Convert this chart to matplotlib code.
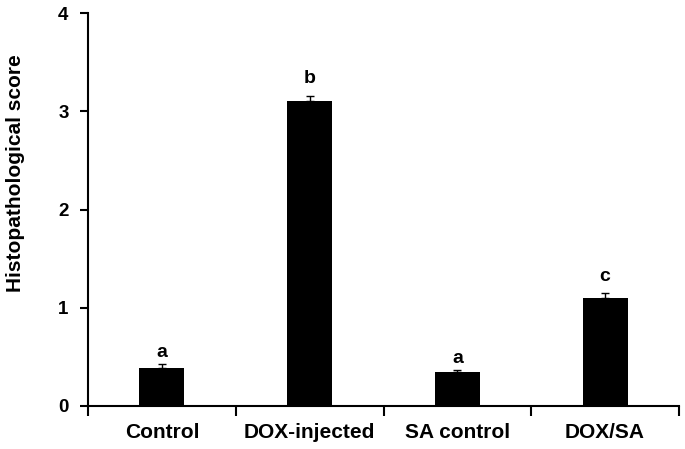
import matplotlib.pyplot as plt
import numpy as np

# data
groups = ['Control', 'DOX-injected', 'SA control', 'DOX/SA']
scores = [0.39, 3.10, 0.35, 1.10]
errors = [0.035, 0.06, 0.02, 0.055]
letters = ['a', 'b', 'a', 'c']
letter_y = [0.50, 3.29, 0.44, 1.275]

plt.rcParams['font.family'] = ['Liberation Sans', 'DejaVu Sans']
plt.rcParams['font.weight'] = 'bold'

fig = plt.figure(figsize=(6.85, 4.49), dpi=100)
ax = fig.add_axes([88 / 685, 43 / 449, 591 / 685, 393 / 449])

x = np.arange(len(groups))
ax.bar(x, scores, width=0.305, color='black', zorder=2)
ax.errorbar(x, scores, yerr=[np.zeros(len(errors)), errors], fmt='none',
            ecolor='black', elinewidth=1, capsize=3, capthick=1, zorder=3)

for xi, lab, ly in zip(x, letters, letter_y):
    ax.text(xi, ly, lab, ha='center', va='baseline', fontsize=14, fontweight='bold')

ax.set_xlim(-0.5, 3.5)
ax.set_ylim(0, 4)
ax.set_yticks([0, 1, 2, 3, 4])
ax.set_xticks(x)
ax.set_xticklabels(groups, fontsize=15, fontweight='bold')
ax.set_xticks(np.arange(-0.5, 4, 1), minor=True)
ax.tick_params(axis='x', which='major', length=0, pad=12)
ax.tick_params(axis='x', which='minor', length=7, width=1.5, direction='out')
ax.tick_params(axis='y', length=6, width=1.5, direction='out', pad=8, labelsize=13.5)
for t in ax.get_yticklabels():
    t.set_fontweight('bold')

for side in ['top', 'right']:
    ax.spines[side].set_visible(False)
for side in ['left', 'bottom']:
    ax.spines[side].set_linewidth(1.5)

fig.text(16 / 685, 1 - 173 / 449, 'Histopathological score', rotation=90,
         ha='center', va='center', fontsize=15, fontweight='bold')

fig.savefig('out.png', dpi=100)
